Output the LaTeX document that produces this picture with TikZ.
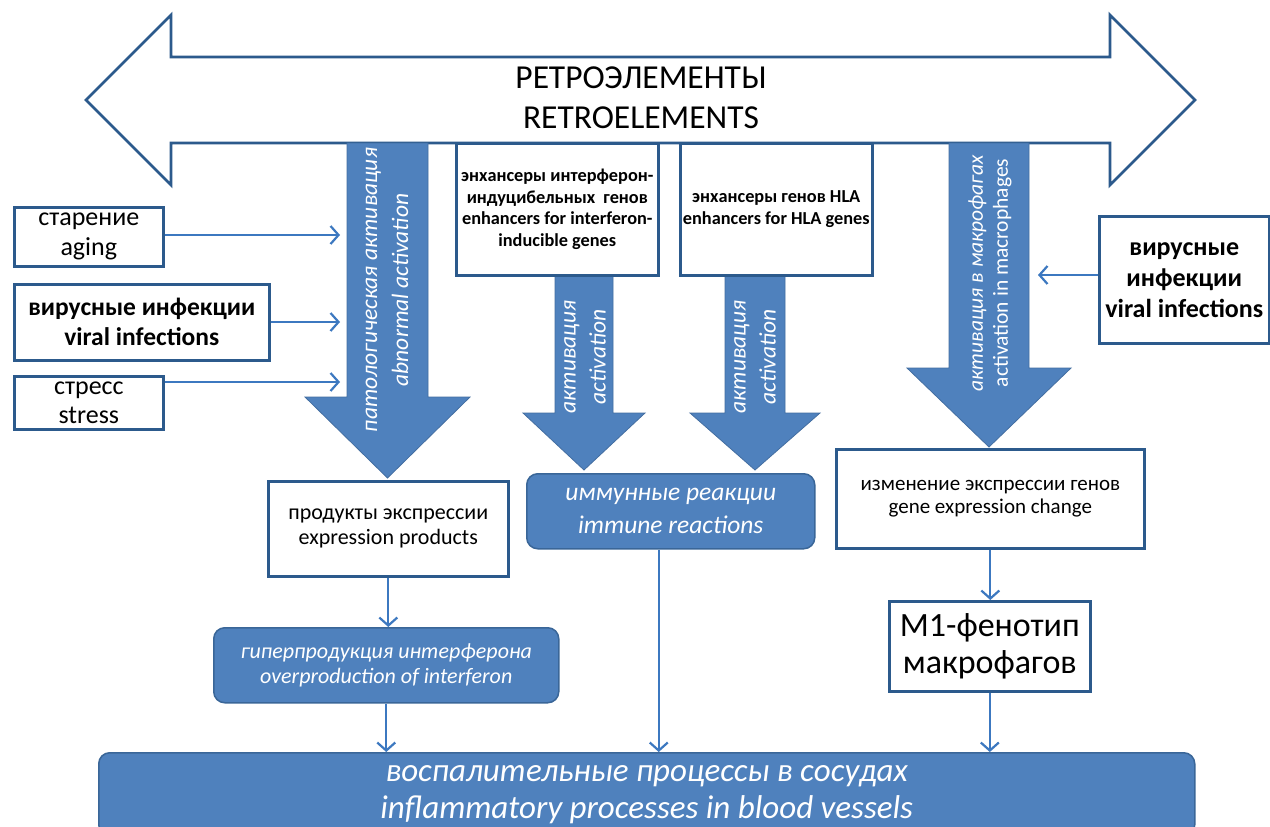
\documentclass[tikz,border=0pt]{standalone}
\usepackage{fontspec}
\setmainfont{Carlito}
\usetikzlibrary{arrows.meta}
\definecolor{bfill}{HTML}{4F81BD}
\definecolor{bline}{HTML}{2C5A8C}
\definecolor{cline}{HTML}{3C78C0}
\definecolor{rline}{HTML}{3A6698}
\begin{document}
\begin{tikzpicture}[x=1pt,y=-1pt,
 box/.style={draw=bline, line width=2.6pt, fill=white, inner sep=0pt, text=black, align=center, anchor=north west},
 rbox/.style={draw=rline, line width=1.5pt, fill=bfill, rounded corners=11pt, inner sep=0pt, text=white, align=center, anchor=north west},
 conn/.style={draw=cline, line width=2.2pt, -{Straight Barb[length=8pt,width=18pt,line width=2.2pt]}},
 blk/.style={fill=bfill, draw=bfill!85!black, line width=0.8pt},
 vtext/.style={rotate=90, text=white, align=center, inner sep=0pt},
 dbl/.style={draw=bline, line width=2.8pt, fill=white, line join=miter}
]
\useasboundingbox (0,0) rectangle (1270,827);
\clip (0,0) rectangle (1270,827);
\fill[white] (0,0) rectangle (1270,827);

% double arrow
\draw[dbl] (86,100) -- (171,15) -- (171,57) -- (1110,57) -- (1110,15) -- (1195,100)
  -- (1110,185) -- (1110,143) -- (171,143) -- (171,185) -- cycle;
\node[align=center, font=\fontsize{33.5}{40}\selectfont] (title) at (641,98) {РЕТРОЭЛЕМЕНТЫ\\RETROELEMENTS};

% block arrows
\draw[blk] (347,143) -- (428,143) -- (428,397) -- (470,397) -- (387.5,478) -- (305,397) -- (347,397) -- cycle;
\draw[blk] (555,275) -- (613,275) -- (613,413) -- (645,413) -- (584,470) -- (523,413) -- (555,413) -- cycle;
\draw[blk] (725,275) -- (785,275) -- (785,413) -- (820,413) -- (755,470) -- (690,413) -- (725,413) -- cycle;
\draw[blk] (949,143) -- (1029,143) -- (1029,368) -- (1071,368) -- (989,447) -- (907,368) -- (949,368) -- cycle;

\node[vtext, font=\fontsize{23.5}{31}\selectfont\itshape] (t1) at (387,290) {патологическая активация\\abnormal activation};
\node[vtext, font=\fontsize{23.5}{30}\selectfont\itshape] (t2) at (585,357) {активация\\activation};
\node[vtext, font=\fontsize{23.5}{30}\selectfont\itshape] (t3) at (755,357) {активация\\activation};
\node[vtext, font=\fontsize{21.5}{25}\selectfont] (t4) at (990,273) {\itshape активация в макрофагах\\activation in macrophages};

% top boxes
\node[box, minimum width=202pt, minimum height=132pt, font=\fontsize{18.3}{21.5}\selectfont\bfseries] (ifn) at (455,142)
  {энхансеры интерферон-\\индуцибельных\ \ генов\\enhancers for interferon-\\inducible genes};
\node[box, minimum width=192pt, minimum height=132pt, font=\fontsize{18.3}{21.5}\selectfont\bfseries] (hla) at (679,142)
  {энхансеры генов HLA\\enhancers for HLA genes};

% left boxes
\node[box, minimum width=149pt, minimum height=59pt, font=\fontsize{26}{30}\selectfont] (aging) at (13,206) {старение\\aging};
\node[box, minimum width=255pt, minimum height=76pt, font=\fontsize{25.5}{30}\selectfont\bfseries] (virl) at (13,283) {вирусные инфекции\\viral infections};
\node[box, minimum width=149pt, minimum height=53pt, font=\fontsize{26}{29}\selectfont] (stress) at (13,375) {стресс\\stress};

% right box
\node[box, minimum width=170pt, minimum height=127pt, font=\fontsize{26}{31}\selectfont\bfseries] (virr) at (1098,215) {вирусные\\инфекции\\viral infections};

% middle boxes
\node[box, minimum width=240pt, minimum height=95pt, font=\fontsize{22}{25}\selectfont] (expr) at (267,480) {продукты экспрессии\\expression products};
\node[rbox, minimum width=288pt, minimum height=75pt, font=\fontsize{25.5}{33}\selectfont\itshape] (imm) at (526,473) {иммунные реакции\\immune reactions};
\node[box, minimum width=308pt, minimum height=99pt, font=\fontsize{21}{23}\selectfont] (gene) at (835,448) {изменение экспрессии генов\\gene expression change};
\node[rbox, minimum width=345pt, minimum height=75pt, font=\fontsize{22}{25}\selectfont\itshape] (hyp) at (213,627) {гиперпродукция интерферона\\overproduction of interferon};
\node[box, minimum width=201pt, minimum height=90pt, font=\fontsize{34}{37}\selectfont] (m1) at (888,600) {M1-фенотип\\макрофагов};
\node[rbox, minimum width=1096pt, minimum height=83pt, font=\fontsize{33}{37}\selectfont\itshape] (inf) at (98,752) {воспалительные процессы в сосудах\\inflammatory processes in blood vessels};

% connectors
\coordinate (p1) at (340,235);
\coordinate (p2) at (340,322);
\coordinate (p3) at (340,382);
\coordinate (p4) at (1038,275);
\draw[conn] (aging.east |- p1) -- (p1);
\draw[conn] (virl.east |- p2) -- (p2);
\draw[conn] (stress.east |- p3) -- (p3);
\draw[conn] (virr.west |- p4) -- (p4);
\draw[conn] (expr.south) -- (expr.south |- hyp.north);
\draw[conn] (hyp.south) -- (hyp.south |- inf.north);
\draw[conn] ([xshift=-12pt]imm.south) -- ([xshift=-12pt]imm.south |- inf.north);
\draw[conn] (gene.south) -- (gene.south |- m1.north);
\draw[conn] (m1.south) -- (m1.south |- inf.north);
\end{tikzpicture}
\end{document}
